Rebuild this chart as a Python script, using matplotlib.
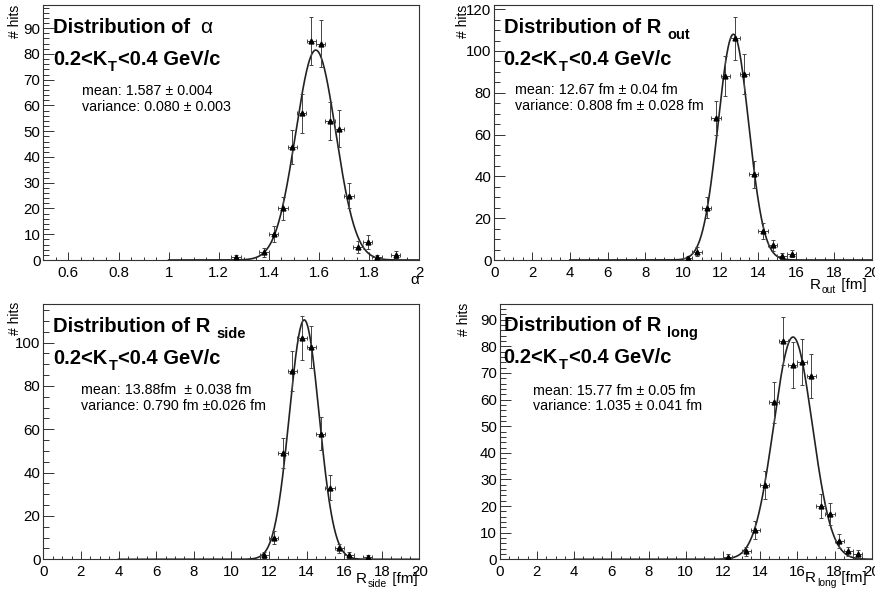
import numpy as np
import matplotlib
matplotlib.use("Agg")
import matplotlib.pyplot as plt
from matplotlib.ticker import MultipleLocator, FuncFormatter

W, H = 875, 592
FONT = "Liberation Sans"
plt.rcParams["font.family"] = [FONT, "DejaVu Sans"]

# alpha histogram (bin width 0.0375)
alpha_x = [1.269, 1.381, 1.419, 1.456, 1.494, 1.531, 1.569, 1.606, 1.644, 1.681, 1.719, 1.756, 1.794, 1.831, 1.906]
alpha_n = [1, 3, 10, 20, 44, 57, 85, 84, 54, 51, 25, 5, 7, 1, 2]
alpha_halfbin = 0.01875
alpha_fit = (81.5, 1.587, 0.080)

# R_out histogram (bin width 0.5 fm)
rout_x = [10.25, 10.75, 11.25, 11.75, 12.25, 12.75, 13.25, 13.75, 14.25, 14.75, 15.25, 15.75]
rout_n = [1, 4, 25, 68, 88, 106, 89, 41, 14, 7, 2, 3]
rout_fit = (108.0, 12.67, 0.808)

# R_side histogram
rside_x = [11.75, 12.25, 12.75, 13.25, 13.75, 14.25, 14.75, 15.25, 15.75, 16.25, 17.25]
rside_n = [2, 10, 49, 87, 102, 98, 58, 33, 5, 2, 1]
rside_fit = (110.5, 13.88, 0.790)

# R_long histogram
rlong_x = [12.25, 13.25, 13.75, 14.25, 14.75, 15.25, 15.75, 16.25, 16.75, 17.25, 17.75, 18.25, 18.75, 19.25]
rlong_n = [1, 3, 11, 28, 59, 82, 73, 74, 69, 20, 17, 7, 3, 2]
rlong_fit = (83.5, 15.77, 1.035)
r_halfbin = 0.25

fig = plt.figure(figsize=(W / 100, H / 100), dpi=100)
renderer = fig.canvas.get_renderer()


def px_axes(l, t, r, b):
    return fig.add_axes([l / W, 1 - b / H, (r - l) / W, (b - t) / H])


def runs(x_px, y_px, pieces, align="left"):
    # pieces: (text, size, weight, dy, gap before)
    made = []
    x = 0
    for s, size, weight, dy, gap in pieces:
        x += gap
        t = fig.text(0, 0, s, fontsize=size, fontweight=weight, va="baseline", ha="left")
        w = t.get_window_extent(renderer).width
        made.append((t, x, dy))
        x += w
    start = x_px if align == "left" else x_px - x
    for t, off, dy in made:
        t.set_position(((start + off) / W, 1 - (y_px + dy) / H))


def panel(ax, xs, ns, halfbin, fit, fit_range, xlim, ylim, xmaj, xmin, ymaj, ymin):
    ns = np.array(ns, dtype=float)
    ax.errorbar(xs, ns, yerr=np.sqrt(ns), xerr=halfbin, fmt="^", color="black",
                ecolor="#444444", elinewidth=0.7, capsize=1.5, capthick=0.7,
                markersize=3.5, zorder=3)
    amp, mu, sig = fit
    xf = np.linspace(fit_range[0], fit_range[1], 800)
    ax.plot(xf, amp * np.exp(-0.5 * ((xf - mu) / sig) ** 2), color="#222222", lw=1.2, zorder=2)
    ax.set_xlim(*xlim)
    ax.set_ylim(*ylim)
    ax.xaxis.set_major_locator(MultipleLocator(xmaj))
    ax.xaxis.set_minor_locator(MultipleLocator(xmin))
    ax.yaxis.set_major_locator(MultipleLocator(ymaj))
    ax.yaxis.set_minor_locator(MultipleLocator(ymin))
    fmt = FuncFormatter(lambda v, p: f"{v:g}")
    ax.xaxis.set_major_formatter(fmt)
    ax.yaxis.set_major_formatter(fmt)
    ax.tick_params(which="both", direction="in", top=False, right=False, width=0.7,
                   labelsize=10.8, colors="#333333", labelcolor="black")
    ax.tick_params(axis="x", which="major", length=5.5, pad=4)
    ax.tick_params(axis="x", which="minor", length=2.5)
    ax.tick_params(axis="y", which="major", length=8, pad=2)
    ax.tick_params(axis="y", which="minor", length=4)
    for sp in ax.spines.values():
        sp.set_linewidth(0.8)
        sp.set_color("#333333")


ax1 = px_axes(43.3, 5, 419.3, 260)
panel(ax1, alpha_x, alpha_n, alpha_halfbin, alpha_fit, (1.0, 2.0), (0.5, 2.0), (0, 99),
      0.2, 0.05, 10, 2)
ax2 = px_axes(494.3, 5, 871.7, 260)
panel(ax2, rout_x, rout_n, r_halfbin, rout_fit, (4, 20), (0, 20), (0, 122),
      2, 0.5, 20, 5)
ax3 = px_axes(43.3, 304.3, 419.3, 559.3)
panel(ax3, rside_x, rside_n, r_halfbin, rside_fit, (4, 20), (0, 20), (0, 117.7),
      2, 0.5, 20, 5)
ax4 = px_axes(499.7, 304.3, 871.7, 559.3)
panel(ax4, rlong_x, rlong_n, r_halfbin, rlong_fit, (4, 20), (0, 20), (0, 95.8),
      2, 0.5, 10, 2)

# titles
TS, SS = 14.5, 10.5
runs(53, 33, [("Distribution of", TS, "bold", 0, 0), ("α", 15, "normal", 0, 10)])
runs(503.7, 33, [("Distribution of R", TS, "bold", 0, 0), ("out", SS, "bold", 6, 6)])
runs(53.3, 331.7, [("Distribution of R", TS, "bold", 0, 0), ("side", SS, "bold", 6.5, 6)])
runs(503.7, 331, [("Distribution of R", TS, "bold", 0, 0), ("long", SS, "bold", 6.5, 6)])

kt = lambda x, y: runs(x, y, [("0.2<K", TS, "bold", 0, 0), ("T", SS, "bold", 6, 1),
                              ("<0.4 GeV/c", TS, "bold", 0, 1)])
kt(53, 65)
kt(503.7, 65)
kt(53.3, 364)
kt(503.7, 363)

# fit results
MS = 10.3
stats = [
    (81.7, 95, 111, "mean: 1.587 ± 0.004", "variance: 0.080 ± 0.003"),
    (515.3, 94.3, 110, "mean: 12.67 fm ± 0.04 fm", "variance: 0.808 fm ± 0.028 fm"),
    (81, 394.3, 410, "mean: 13.88fm  ± 0.038 fm", "variance: 0.790 fm ±0.026 fm"),
    (533, 395, 410, "mean: 15.77 fm ± 0.05 fm", "variance: 1.035 ± 0.041 fm"),
]
for x, y1, y2, s1, s2 in stats:
    fig.text(x / W, 1 - y1 / H, s1, fontsize=MS, va="baseline", ha="left")
    fig.text(x / W, 1 - y2 / H, s2, fontsize=MS, va="baseline", ha="left")

# y axis titles
for xc, yt in [(14.7, 5), (463, 5), (15, 301.7), (464.5, 303)]:
    fig.text(xc / W, 1 - yt / H, "# hits", fontsize=10, rotation=90, ha="center", va="top")

# x axis titles
runs(419, 284, [("α", 11, "normal", 0, 0)], align="right")
runs(867, 289, [("R", 11, "normal", 0, 0), ("out", 7.5, "normal", 4, 1), (" [fm]", 11, "normal", 0, 1)], align="right")
runs(418, 583, [("R", 11, "normal", 0, 0), ("side", 7.5, "normal", 4, 1), (" [fm]", 11, "normal", 0, 1)], align="right")
runs(867, 582, [("R", 11, "normal", 0, 0), ("long", 7.5, "normal", 4, 1), (" [fm]", 11, "normal", 0, 1)], align="right")

fig.savefig("out.png", dpi=100, facecolor="white")
